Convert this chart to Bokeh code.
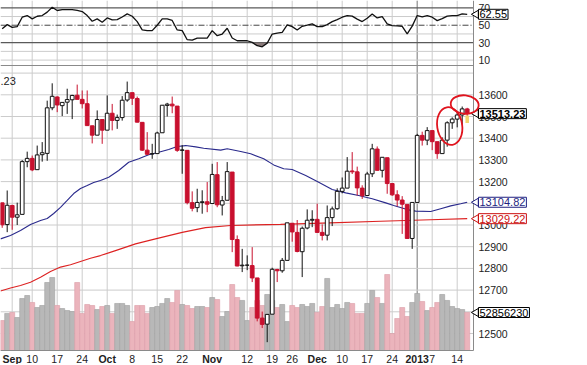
import math
from bokeh.plotting import figure
from bokeh.models import Range1d, ColumnDataSource
from bokeh.embed import file_html
from bokeh.resources import INLINE
from bokeh.core.properties import value

# ---------------- data ----------------
dates = ["Aug30", "Aug31", "Sep4", "Sep5", "Sep6", "Sep7", "Sep10", "Sep11", "Sep12", "Sep13",
         "Sep14", "Sep17", "Sep18", "Sep19", "Sep20", "Sep21", "Sep24", "Sep25", "Sep26", "Sep27",
         "Sep28", "Oct1", "Oct2", "Oct3", "Oct4", "Oct5", "Oct8", "Oct9", "Oct10", "Oct11",
         "Oct12", "Oct15", "Oct16", "Oct17", "Oct18", "Oct19", "Oct22", "Oct23", "Oct24", "Oct25",
         "Oct26", "Oct31", "Nov1", "Nov2", "Nov5", "Nov6", "Nov7", "Nov8", "Nov9", "Nov12",
         "Nov13", "Nov14", "Nov15", "Nov16", "Nov19", "Nov20", "Nov21", "Nov23", "Nov26", "Nov27",
         "Nov28", "Nov29", "Nov30", "Dec3", "Dec4", "Dec5", "Dec6", "Dec7", "Dec10", "Dec11",
         "Dec12", "Dec13", "Dec14", "Dec17", "Dec18", "Dec19", "Dec20", "Dec21", "Dec24", "Dec26",
         "Dec27", "Dec28", "Dec31", "Jan2", "Jan3", "Jan4", "Jan7", "Jan8", "Jan9", "Jan10",
         "Jan11", "Jan14", "Jan15", "Jan16"]

opens = [13102, 13002, 13090, 13036, 13049, 13292, 13307, 13255, 13324, 13330,
         13540, 13590, 13550, 13566, 13577, 13598, 13579, 13559, 13457, 13414,
         13486, 13437, 13515, 13482, 13495, 13576, 13610, 13583, 13473, 13345,
         13327, 13329, 13425, 13551, 13557, 13548, 13344, 13344, 13103, 13080,
         13104, 13107, 13099, 13232, 13092, 13114, 13244, 12933, 12812, 12815,
         12813, 12756, 12571, 12543, 12589, 12795, 12789, 12837, 13008, 12966,
         12877, 12986, 13022, 13026, 12966, 12953, 13034, 13075, 13155, 13170,
         13249, 13245, 13170, 13136, 13236, 13350, 13252, 13310, 13191, 13139,
         13115, 13095, 12938, 13104, 13413, 13391, 13435, 13384, 13329, 13391,
         13471, 13488, 13507, 13535]
highs = [13102, 13159, 13093, 13103, 13299, 13338, 13320, 13366, 13382, 13573,
         13653, 13593, 13565, 13628, 13600, 13647, 13620, 13620, 13458, 13528,
         13486, 13597, 13558, 13509, 13594, 13661, 13610, 13592, 13474, 13428,
         13374, 13430, 13552, 13563, 13592, 13548, 13368, 13344, 13155, 13167,
         13160, 13198, 13282, 13290, 13134, 13290, 13244, 12952, 12890, 12860,
         12898, 12756, 12601, 12590, 12803, 12798, 12848, 13010, 13008, 13023,
         12993, 13072, 13068, 13098, 13003, 13090, 13085, 13169, 13219, 13313,
         13336, 13269, 13183, 13245, 13374, 13362, 13312, 13310, 13191, 13160,
         13133, 13095, 13104, 13420, 13430, 13451, 13435, 13384, 13404, 13478,
         13496, 13517, 13546, 13540]
lows = [12987, 12967, 12978, 13000, 13049, 13266, 13248, 13255, 13292, 13296,
        13529, 13520, 13502, 13512, 13488, 13579, 13537, 13457, 13376, 13414,
        13374, 13437, 13436, 13443, 13481, 13568, 13553, 13473, 13341, 13323,
        13305, 13329, 13425, 13500, 13515, 13337, 13236, 13095, 13063, 13059,
        13052, 13059, 13099, 13082, 13044, 13114, 12875, 12810, 12783, 12792,
        12737, 12556, 12525, 12460, 12589, 12737, 12780, 12837, 12923, 12874,
        12760, 12980, 12990, 12964, 12929, 12929, 12995, 13070, 13146, 13170,
        13235, 13136, 13120, 13136, 13221, 13251, 13219, 13144, 13134, 13086,
        12959, 12937, 12890, 13104, 13366, 13368, 13345, 13305, 13329, 13361,
        13443, 13450, 13460, 13470]
closes = [13001, 13091, 13036, 13047, 13292, 13307, 13254, 13323, 13333, 13540,
          13593, 13553, 13565, 13578, 13597, 13579, 13559, 13458, 13414, 13486,
          13437, 13515, 13482, 13495, 13575, 13610, 13584, 13474, 13345, 13326,
          13329, 13424, 13552, 13557, 13549, 13344, 13346, 13103, 13077, 13104,
          13107, 13096, 13233, 13093, 13112, 13246, 12933, 12811, 12815, 12815,
          12756, 12571, 12542, 12588, 12796, 12789, 12837, 13010, 12968, 12878,
          12985, 13022, 13026, 12966, 12952, 13034, 13074, 13155, 13170, 13248,
          13245, 13171, 13135, 13235, 13351, 13252, 13312, 13191, 13139, 13115,
          13096, 12938, 13104, 13413, 13391, 13435, 13384, 13329, 13391, 13471,
          13488, 13507, 13535, 13513.23]

# volume in millions of shares
volume_m = [41.7, 51.5, 52.9, 45.9, 72.3, 76.5, 66.8, 59.8, 62.6, 94.6,
            101.5, 62.6, 58.4, 55.6, 54.2, 94.6, 51.5, 64.0, 62.6, 57.0,
            61.2, 62.6, 51.5, 65.4, 65.4, 62.6, 40.3, 62.6, 62.6, 51.5,
            59.8, 61.2, 65.4, 72.3, 66.8, 83.5, 64.0, 62.6, 58.4, 61.2,
            61.2, 59.8, 73.7, 70.9, 47.3, 54.2, 91.8, 73.7, 69.6, 41.7,
            59.8, 69.6, 62.6, 77.9, 69.6, 59.8, 64.0, 40.3, 62.6, 59.8,
            64.0, 61.2, 65.4, 52.9, 61.2, 100.2, 59.8, 64.0, 58.4, 66.8,
            65.4, 51.5, 51.5, 65.4, 83.5, 73.7, 65.4, 105.7, 23.6, 44.5,
            59.8, 47.3, 66.8, 79.3, 68.2, 55.6, 59.8, 66.8, 77.9, 69.6,
            61.2, 58.4, 57.0, 52.856230]

rsi_vals = [46.0, 50.7, 47.6, 48.4, 59.2, 61.1, 57.3, 60.3, 61.1, 65.0,
            70.7, 66.9, 68.0, 68.0, 68.0, 67.0, 65.7, 61.1, 54.6, 57.3,
            53.4, 58.4, 56.1, 56.5, 59.5, 63.0, 60.3, 54.2, 44.6, 43.8,
            43.8, 50.0, 57.3, 57.3, 55.5, 44.6, 43.8, 33.4, 33.0, 35.3,
            35.3, 35.3, 43.8, 38.0, 39.9, 46.5, 35.3, 32.2, 32.2, 32.2,
            30.3, 26.5, 25.3, 29.5, 39.9, 40.9, 41.9, 50.3, 48.4, 44.6,
            48.8, 50.0, 51.5, 48.4, 48.4, 50.7, 54.2, 56.5, 59.2, 61.1,
            60.5, 57.0, 54.2, 58.0, 63.0, 58.4, 60.0, 51.5, 49.6, 49.2,
            48.8, 40.0, 49.0, 61.1, 59.5, 61.0, 59.2, 55.3, 57.5, 60.5,
            61.1, 61.1, 63.0, 62.55]

# 50-day (blue) and 200-day (red) moving averages: (bar position, value)
ma50_pos = [-0.34, 1.66, 3.66, 5.66, 7.66, 9.0, 10.3, 11.66, 13.0, 14.3, 15.66, 17.0, 18.3,
            19.66, 21.3, 23.3, 25.3, 27.3, 29.3, 31.3, 33.3, 35.0, 36.7, 38.7, 40.3, 43.7,
            45.0, 47.7, 49.7, 52.3, 54.3, 56.3, 58.0, 60.7, 63.3, 66.0, 68.7, 71.3, 74.0,
            76.7, 78.3, 81.0, 82.7, 85.7, 87.7, 89.7, 91.7, 93.0]
ma50_val = [12936, 12952, 12975, 13002, 13021, 13030, 13053, 13081, 13113, 13145, 13168, 13182, 13196,
            13205, 13220, 13251, 13289, 13305, 13324, 13335, 13348, 13362, 13366, 13360, 13354, 13345,
            13351, 13339, 13328, 13305, 13277, 13259, 13256, 13228, 13197, 13164, 13148, 13136, 13121,
            13102, 13090, 13071, 13064, 13062, 13075, 13088, 13098, 13104.82]
ma200_pos = [-0.34, 1.66, 3.66, 5.66, 7.66, 9.66, 11.66, 13.66, 15.66, 17.66, 19.66, 22.66,
             26.66, 30.66, 36.0, 40.66, 45.66, 55.66, 65.66, 75.66, 85.66, 93.0]
ma200_val = [12696, 12710, 12721, 12736, 12759, 12786, 12806, 12817, 12832, 12847, 12859, 12882,
             12913, 12936, 12966, 12988, 12998, 13003, 13010, 13017, 13024, 13029.22]

# x-axis labels
day_pos = [6, 11, 16, 26, 31, 36, 49, 54, 58, 68, 73, 78, 86, 91]
day_labels = ["10", "17", "24", "8", "15", "22", "12", "19", "26", "10", "17", "24", "7", "14"]
month_pos = [2, 21, 42, 63, 83]
month_labels = ["Sep", "Oct", "Nov", "Dec", "2013"]
year_pos = [83]

price_ticks = [12500, 12600, 12700, 12800, 12900, 13000, 13100, 13200, 13300, 13400, 13500, 13600]
price_grid = [12500, 12600, 12700, 12800, 12900, 13000, 13100, 13200, 13300, 13400, 13500, 13600, 13700]
rsi_ticks = [10, 30, 50, 70]
rsi_grid = [10, 20, 40, 60]
rsi_bands = [30, 70]
rsi_mid = [50]

last_price = 13513.23
last_ma50 = 13104.82
last_ma200 = 13029.22
last_volume = 52856230
last_rsi = 62.55

# hand-drawn red loops in the picture (centre bar, centre price, width in bars, height in points, angle)
circle_x = [89.5, 92.5]
circle_y = [13456, 13555]
circle_w = [5.0, 5.6]
circle_h = [175, 85]
circle_a = [0.15, -0.1]

# ---------------- layout constants (page pixels -> data units) ----------------
W, H = 580, 364
PX = 5.0                         # pixels per bar
X0 = -0.34                       # bar index at the left edge
def bx(px):                      # page x -> bar units
    return X0 + px / PX
PLOT_R = bx(473)
X_END = bx(W)

def pr(y):                       # page y -> price
    return 13600 - (y - 94.3) / 0.217
def rs(y):                       # page y -> RSI
    return 70 - (y - 7.3) / 0.8717
def vo(y):                       # page y -> volume (millions)
    return (350 - y) * 1.391

SEP_Y, BOT_Y = 65, 350

N = len(closes)
idx = list(range(N))
RED = "#c8102e"
FONT = "Liberation Sans"
up = [c >= o for o, c in zip(opens, closes)]
vol_up = [i > 0 and closes[i] >= closes[i - 1] for i in idx]
grid_pos = sorted(day_pos + month_pos)

p = figure(width=W, height=H, x_range=Range1d(X0, X_END), y_range=Range1d(pr(H), pr(0)),
           output_backend="svg", toolbar_location=None, x_axis_location=None,
           y_axis_location=None, min_border=0)
p.outline_line_color = None
p.grid.visible = False
p.extra_y_ranges = {"rsi": Range1d(rs(H), rs(0)), "vol": Range1d(vo(H), vo(0))}

# ---- grids ----
GRID = "#cccccc"
p.segment(x0=grid_pos, x1=grid_pos, y0=[pr(BOT_Y)] * len(grid_pos), y1=[pr(0)] * len(grid_pos),
          line_color=GRID, line_width=1)
p.segment(x0=year_pos, x1=year_pos, y0=[pr(BOT_Y)] * len(year_pos), y1=[pr(0)] * len(year_pos),
          line_color="#8c8c8c", line_width=1)
p.segment(x0=[X0] * len(price_grid), x1=[PLOT_R] * len(price_grid), y0=price_grid, y1=price_grid,
          line_color=GRID, line_width=1)
p.segment(x0=[X0] * len(rsi_grid), x1=[PLOT_R] * len(rsi_grid), y0=rsi_grid, y1=rsi_grid,
          line_color=GRID, line_width=1, y_range_name="rsi")

# ---- volume ----
vsrc = ColumnDataSource(dict(x=idx, v=volume_m,
                             fill=["#b8b8b8" if u else "#ebb4bc" for u in vol_up],
                             line=["#a0a0a0" if u else "#dc9ea8" for u in vol_up]))
p.vbar(x="x", top="v", bottom=0, width=1.0, fill_color="fill", line_color="line",
       line_width=0.6, source=vsrc, y_range_name="vol")

# ---- moving averages ----
p.line(ma200_pos, ma200_val, line_color="#dd2222", line_width=1.1)
p.line(ma50_pos, ma50_val, line_color="#2a2a8c", line_width=1.1)

# ---- candles ----
csrc = ColumnDataSource(dict(
    x=idx, h=highs, l=lows,
    top=[max(o, c) for o, c in zip(opens, closes)],
    bot=[min(o, c) for o, c in zip(opens, closes)],
    wick=["#111111" if u else RED for u in up],
    fill=["white" if u else RED for u in up],
))
p.segment(x0="x", y0="l", x1="x", y1="h", line_color="wick", line_width=1, source=csrc)
p.vbar(x="x", top="top", bottom="bot", width=0.75, fill_color="fill", line_color="wick",
       line_width=1, source=csrc)
p.vbar(x=[idx[-1]], top=[lows[-1] + 35], bottom=[lows[-1]], width=0.7, fill_color="#f2d36b",
       line_color=None)

# ---- RSI ----
p.segment(x0=[X0] * 2, x1=[PLOT_R] * 2, y0=rsi_bands, y1=rsi_bands, line_color="#5a5a5a",
          line_width=1.2, y_range_name="rsi")
p.segment(x0=[X0], x1=[PLOT_R], y0=rsi_mid, y1=rsi_mid, line_color="#444444", line_width=1,
          line_dash="6 2 1 2", y_range_name="rsi")
lo = [min(v, 30) for v in rsi_vals]
hi = [max(v, 70) for v in rsi_vals]
p.varea(x=idx, y1=[30] * N, y2=lo, fill_color="#8a7b7b", y_range_name="rsi")
p.varea(x=idx, y1=[70] * N, y2=hi, fill_color="#8a7b7b", y_range_name="rsi")
p.line(idx, rsi_vals, line_color="#111111", line_width=1.3, y_range_name="rsi")

# ---- panel borders ----
p.segment(x0=[PLOT_R], x1=[PLOT_R], y0=[pr(BOT_Y)], y1=[pr(0)], line_color="#8a8a8a", line_width=1)
p.segment(x0=[X0, X0], x1=[PLOT_R, PLOT_R], y0=[pr(SEP_Y), pr(BOT_Y)], y1=[pr(SEP_Y), pr(BOT_Y)],
          line_color="#8a8a8a", line_width=1)

# ---- axis labels ----
LX = bx(478)
p.text(x=[LX] * len(price_ticks), y=price_ticks, text=[str(t) for t in price_ticks],
       text_font=value(FONT), text_font_size="10.5px", text_baseline="middle",
       text_color="#222222")
p.text(x=[LX] * len(rsi_ticks), y=rsi_ticks, text=[str(t) for t in rsi_ticks],
       text_font=value(FONT), text_font_size="10.5px", text_baseline="middle",
       text_color="#222222", y_range_name="rsi")
XL_Y = pr(358)
p.text(x=day_pos, y=[XL_Y] * len(day_pos), text=day_labels, text_font=value(FONT),
       text_font_size="10.5px", text_align="center", text_baseline="middle", text_color="#222222")
p.text(x=month_pos, y=[XL_Y] * len(month_pos), text=month_labels, text_font=value(FONT),
       text_font_size="10.5px", text_font_style="bold", text_align="center",
       text_baseline="middle", text_color="#222222")
p.text(x=[bx(0)], y=[pr(80)], text=[".23"], text_font=value(FONT), text_font_size="11px",
       text_baseline="middle", text_color="#222222")

# ---- value tags on the right ----
TX = bx(478)
def tag(y, text, color, bold=False, yr="default"):
    p.scatter(x=[bx(475.5)], y=[y], marker="triangle", angle=math.pi / 2, size=8,
              fill_color="white", line_color=color, line_width=1, y_range_name=yr)
    p.text(x=[TX], y=[y], text=[text], text_font=value(FONT), text_font_size="11px",
           text_baseline="middle", text_color=color,
           text_font_style="bold" if bold else "normal",
           background_fill_color="white", border_line_color=color, border_line_width=1,
           padding=1, y_range_name=yr)

tag(last_rsi, f"{last_rsi:.2f}", "#000000", yr="rsi")
tag(last_price, f"{last_price:.2f}", "#000000", bold=True)
tag(last_ma50, f"{last_ma50:.2f}", "#1f1f80")
tag(last_ma200, f"{last_ma200:.2f}", "#cc1111")
tag(last_volume / 1e6, f"{last_volume}", "#000000", yr="vol")

# ---- hand-drawn loops ----
p.ellipse(x=circle_x, y=circle_y, width=circle_w, height=circle_h, angle=circle_a,
          fill_color=None, line_color="#e0141e", line_width=1.8)

open("out.html", "w").write(file_html(p, INLINE))
